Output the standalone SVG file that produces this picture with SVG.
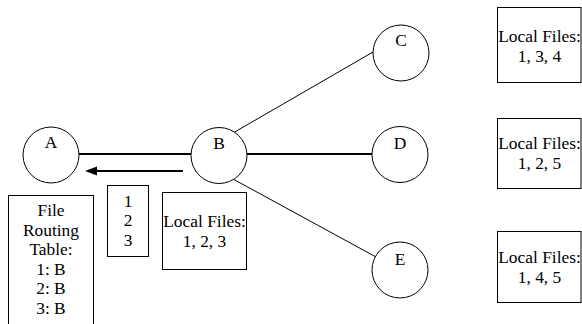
<svg xmlns="http://www.w3.org/2000/svg" width="582" height="324" viewBox="0 0 582 324">
<style>
text{font-family:"Liberation Serif","Times New Roman","DejaVu Serif",serif;font-size:17.4px;fill:#000;text-anchor:middle}
.node{fill:#fff;stroke:#000;stroke-width:1}
.box{fill:#fff;stroke:#000;stroke-width:1}
.thick{stroke:#000;stroke-width:2;fill:none}
.thin{stroke:#000;stroke-width:1;fill:none}
</style>
<rect width="582" height="324" fill="#fff"/>
<g id="connectors">
<line class="thick" x1="79" y1="154" x2="191" y2="154"/>
<line class="thick" x1="247" y1="154" x2="372" y2="154"/>
<line class="thin" x1="233" y1="133" x2="373" y2="52"/>
<line class="thin" x1="233" y1="179" x2="376" y2="257"/>
<line class="thick" x1="183" y1="171" x2="96" y2="171"/>
<polygon points="85,171 97,166.5 97,175.5" fill="#000"/>
</g>
<g id="A"><circle class="node" cx="51" cy="155" r="28"/><text x="51" y="148">A</text></g>
<g id="B"><circle class="node" cx="219" cy="155.5" r="28"/><text x="219" y="149">B</text></g>
<g id="C"><circle class="node" cx="401" cy="53" r="28"/><text x="401" y="46">C</text></g>
<g id="D"><circle class="node" cx="400" cy="154.5" r="28"/><text x="400" y="149">D</text></g>
<g id="E"><circle class="node" cx="400" cy="270" r="28"/><text x="400" y="265">E</text></g>
<g id="routing-table">
<rect class="box" x="8.5" y="195.5" width="85" height="140"/>
<text x="51" y="216">File</text>
<text x="51" y="235.5">Routing</text>
<text x="51" y="255">Table:</text>
<text x="51" y="274.5">1: B</text>
<text x="51" y="294">2: B</text>
<text x="51" y="313.5">3: B</text>
</g>
<g id="message">
<rect class="box" x="107.5" y="185.5" width="41" height="71"/>
<text x="128" y="206.5">1</text>
<text x="128" y="226">2</text>
<text x="128" y="245.5">3</text>
</g>
<g id="files-B">
<rect class="box" x="162.5" y="192.5" width="84" height="77"/>
<text x="204.5" y="227">Local Files:</text>
<text x="204.5" y="246.5">1, 2, 3</text>
</g>
<g id="files-C">
<rect class="box" x="497.5" y="7.5" width="83.5" height="75"/>
<text x="539.5" y="42">Local Files:</text>
<text x="539.5" y="61.5">1, 3, 4</text>
</g>
<g id="files-D">
<rect class="box" x="497.5" y="118.5" width="83.5" height="70"/>
<text x="539.5" y="149">Local Files:</text>
<text x="539.5" y="168.5">1, 2, 5</text>
</g>
<g id="files-E">
<rect class="box" x="497.5" y="231.5" width="83.5" height="71"/>
<text x="539.5" y="263">Local Files:</text>
<text x="539.5" y="282.5">1, 4, 5</text>
</g>
</svg>
